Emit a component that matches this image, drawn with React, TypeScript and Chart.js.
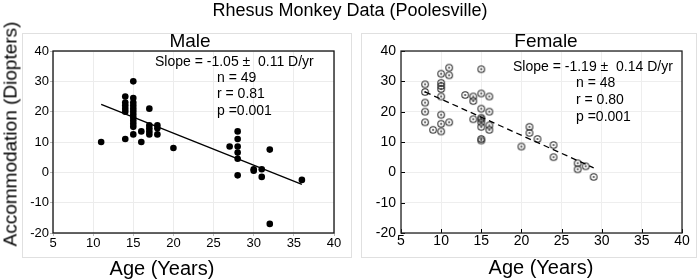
import React, { useEffect, useRef } from "react";
import { Chart, registerables } from "chart.js";

Chart.register(...registerables);

const FONT = "'Liberation Sans', Arial, Helvetica, sans-serif";

const mainTitle = "Rhesus Monkey Data (Poolesville)";
const yAxisTitle = "Accommodation (Diopters)";
const xAxisTitle = "Age (Years)";
const maleTitle = "Male";
const femaleTitle = "Female";

const xTicks = [5, 10, 15, 20, 25, 30, 35, 40];
const yTicks = [-20, -10, 0, 10, 20, 30, 40];

const maleAge = [
  11,
  14, 14, 14, 14, 14, 14,
  15, 15, 15, 15, 15, 15, 15, 15, 15, 15, 15, 15,
  16, 16,
  17, 17, 17, 17, 17,
  18, 18, 18,
  20,
  27,
  28, 28, 28, 28, 28, 28,
  30, 30,
  31, 31,
  32, 32,
  36,
];
const maleAcc = [
  10,
  25, 23, 22, 21, 20, 11,
  30, 24.5, 23, 22, 21, 20, 19, 18, 17, 16, 15, 12.5,
  13.5, 10,
  21, 15.5, 14.5, 13.5, 12.5,
  15.5, 14.5, 12.5,
  8,
  8.5,
  13.5, 11, 8.5, 6.5, 4.5, -1,
  1, 0.5,
  1, -1.5,
  7.5, -17,
  -2.5,
];
const maleFitX = [11, 36];
const maleFitY = [22.4, -4.0];
const maleStats = ["Slope = -1.05 \u00B1  0.11 D/yr", "n = 49", "r = 0.81", "p =0.001"];

const femaleAge = [
  8, 8, 8, 8, 8,
  9,
  10, 10, 10, 10, 10, 10, 10, 10,
  11, 11, 11,
  13,
  14, 14, 14,
  15, 15, 15, 15, 15, 15, 15, 15, 15,
  16, 16, 16, 16,
  20,
  21, 21,
  22,
  24, 24,
  27, 27,
  28,
  29,
];
const femaleAcc = [
  29, 26.5, 23, 20, 16.5,
  14,
  32.5, 29.5, 28.5, 27.5, 25, 19, 16, 13.5,
  34.5, 32, 16.5,
  25.5,
  25, 23.5, 17.5,
  34, 26, 21, 18, 17.5, 16.5, 15, 11, 10.5,
  25, 20, 15.5, 14,
  8.5,
  15, 13,
  11,
  9, 5,
  3, 1,
  2,
  -1.5,
];
const femaleFitX = [8, 29];
const femaleFitY = [26.5, 1.5];
const femaleStats = ["Slope = -1.19 \u00B1  0.14 D/yr", "n = 48", "r = 0.80", "p =0.001"];

function toPoints(xs: number[], ys: number[]) {
  return xs.map((x, i) => ({ x, y: ys[i] }));
}

function ringDot(): HTMLCanvasElement {
  const c = document.createElement("canvas");
  c.width = 10;
  c.height = 10;
  const g = c.getContext("2d")!;
  g.strokeStyle = "#2e2e2e";
  g.lineWidth = 1.1;
  g.beginPath();
  g.arc(5, 5, 3.3, 0, Math.PI * 2);
  g.stroke();
  g.fillStyle = "#2e2e2e";
  g.beginPath();
  g.arc(5, 5, 0.9, 0, Math.PI * 2);
  g.fill();
  return c;
}

type Cfg = {
  stats: string[];
  statPos: number[][];
  innerTicks: boolean;
  frameColor: string;
  frameWidth: number;
};

function framePlugin(cfg: Cfg) {
  return {
    id: "frame",
    afterDraw(chart: any) {
      const { ctx, chartArea: a, scales } = chart;
      ctx.save();
      if (cfg.innerTicks) {
        ctx.strokeStyle = "#000";
        ctx.lineWidth = 1;
        ctx.beginPath();
        xTicks.forEach((v) => {
          const px = Math.round(scales.x.getPixelForValue(v)) + 0.5;
          ctx.moveTo(px, a.bottom);
          ctx.lineTo(px, a.bottom - 4);
        });
        yTicks.forEach((v) => {
          const py = Math.round(scales.y.getPixelForValue(v)) + 0.5;
          ctx.moveTo(a.left, py);
          ctx.lineTo(a.left + 4, py);
        });
        ctx.stroke();
      }
      ctx.strokeStyle = cfg.frameColor;
      ctx.lineWidth = cfg.frameWidth;
      ctx.strokeRect(a.left, a.top, a.right - a.left, a.bottom - a.top);
      ctx.fillStyle = "#000";
      ctx.font = `14px ${FONT}`;
      ctx.textBaseline = "middle";
      ctx.textAlign = "left";
      cfg.stats.forEach((t, i) => {
        const p = cfg.statPos[i];
        ctx.fillText(t, a.left + p[0], a.top + p[1]);
      });
      ctx.restore();
    },
  };
}

function makeChart(
  canvas: HTMLCanvasElement,
  opts: {
    pts: { x: number; y: number }[];
    fit: { x: number; y: number }[];
    pointStyle: any;
    radius: number;
    dash: number[];
    yWidth: number;
    padRight: number;
    tickSize: number;
    gridColor: string;
    drawTicks: boolean;
    yPad: number;
    xPad: number;
    cfg: Cfg;
  }
) {
  return new Chart(canvas, {
    type: "scatter",
    data: {
      datasets: [
        {
          type: "line",
          data: opts.fit,
          borderColor: "#000",
          borderWidth: 1.3,
          borderDash: opts.dash,
          pointRadius: 0,
          fill: false,
          showLine: true,
        } as any,
        {
          data: opts.pts,
          pointStyle: opts.pointStyle,
          pointRadius: opts.radius,
          backgroundColor: "#000",
          borderColor: "#000",
          borderWidth: 0,
        },
      ],
    },
    options: {
      animation: false,
      responsive: false,
      maintainAspectRatio: false,
      events: [],
      layout: { padding: { left: 0, top: 51, right: opts.padRight, bottom: 26 } },
      plugins: { legend: { display: false }, tooltip: { enabled: false }, title: { display: false } },
      scales: {
        x: {
          type: "linear",
          min: xTicks[0],
          max: xTicks[xTicks.length - 1],
          afterBuildTicks: (s: any) => {
            s.ticks = xTicks.map((v) => ({ value: v }));
          },
          afterFit: (s: any) => {
            s.height = 20;
          },
          grid: {
            color: opts.gridColor,
            drawTicks: opts.drawTicks,
            tickLength: 3,
            tickColor: "#bbb",
          },
          border: { display: false },
          ticks: {
            color: "#000",
            font: { family: FONT, size: opts.tickSize },
            padding: opts.xPad,
            maxRotation: 0,
            autoSkip: false,
          },
        },
        y: {
          type: "linear",
          min: yTicks[0],
          max: yTicks[yTicks.length - 1],
          afterBuildTicks: (s: any) => {
            s.ticks = yTicks.map((v) => ({ value: v }));
          },
          afterFit: (s: any) => {
            s.width = opts.yWidth;
          },
          grid: {
            color: opts.gridColor,
            drawTicks: opts.drawTicks,
            tickLength: 3,
            tickColor: "#bbb",
          },
          border: { display: false },
          ticks: {
            color: "#000",
            font: { family: FONT, size: opts.tickSize },
            padding: opts.yPad,
            autoSkip: false,
          },
        },
      },
    },
    plugins: [framePlugin(opts.cfg)],
  } as any);
}

const textBase: React.CSSProperties = {
  position: "absolute",
  fontFamily: FONT,
  color: "#000",
  whiteSpace: "nowrap",
  textAlign: "center",
};

export default function App() {
  const leftRef = useRef<HTMLCanvasElement>(null);
  const rightRef = useRef<HTMLCanvasElement>(null);

  useEffect(() => {
    const male = makeChart(leftRef.current!, {
      pts: toPoints(maleAge, maleAcc),
      fit: toPoints(maleFitX, maleFitY),
      pointStyle: "circle",
      radius: 3.3,
      dash: [],
      yWidth: 53,
      padRight: 22,
      tickSize: 13,
      gridColor: "#ececec",
      drawTicks: true,
      yPad: 1,
      xPad: 0,
      cfg: {
        stats: maleStats,
        statPos: [
          [102, 11],
          [164, 27],
          [164, 43],
          [164, 60],
        ],
        innerTicks: false,
        frameColor: "#111",
        frameWidth: 1.3,
      },
    });
    const female = makeChart(rightRef.current!, {
      pts: toPoints(femaleAge, femaleAcc),
      fit: toPoints(femaleFitX, femaleFitY),
      pointStyle: ringDot(),
      radius: 3.3,
      dash: [6, 4],
      yWidth: 45,
      padRight: 18,
      tickSize: 14,
      gridColor: "#eeeeee",
      drawTicks: false,
      yPad: 5,
      xPad: 0,
      cfg: {
        stats: femaleStats,
        statPos: [
          [112, 16],
          [175, 32],
          [175, 49],
          [175, 66],
        ],
        innerTicks: true,
        frameColor: "#222",
        frameWidth: 1.3,
      },
    });
    return () => {
      male.destroy();
      female.destroy();
    };
  }, []);

  return (
    <div
      style={{
        position: "absolute",
        left: 0,
        top: 0,
        width: 700,
        height: 279,
        background: "#fff",
        overflow: "hidden",
      }}
    >
      <div style={{ position: "absolute", left: 22, top: 33, width: 328, height: 223, border: "1px solid #e0e0e0" }} />
      <div style={{ position: "absolute", left: 361, top: 33, width: 334, height: 223, border: "1px solid #e0e0e0" }} />
      <canvas ref={leftRef} width={356} height={279} style={{ position: "absolute", left: 0, top: 0, width: 356, height: 279 }} />
      <canvas ref={rightRef} width={344} height={279} style={{ position: "absolute", left: 356, top: 0, width: 344, height: 279 }} />
      <div style={{ ...textBase, left: 0, width: 700, top: 1, fontSize: 18, lineHeight: "18px" }}>{mainTitle}</div>
      <div style={{ ...textBase, left: 90, width: 200, top: 31, fontSize: 19, lineHeight: "19px" }}>{maleTitle}</div>
      <div style={{ ...textBase, left: 446, width: 200, top: 31, fontSize: 19, lineHeight: "19px" }}>{femaleTitle}</div>
      <div style={{ ...textBase, left: 62, width: 200, top: 258, fontSize: 20, lineHeight: "20px" }}>{xAxisTitle}</div>
      <div style={{ ...textBase, left: 441, width: 200, top: 257, fontSize: 20, lineHeight: "20px" }}>{xAxisTitle}</div>
      <div
        style={{
          ...textBase,
          left: 9.5,
          top: 134,
          fontSize: 19,
          lineHeight: "19px",
          transform: "translate(-50%, -50%) rotate(-90deg)",
        }}
      >
        {yAxisTitle}
      </div>
    </div>
  );
}
